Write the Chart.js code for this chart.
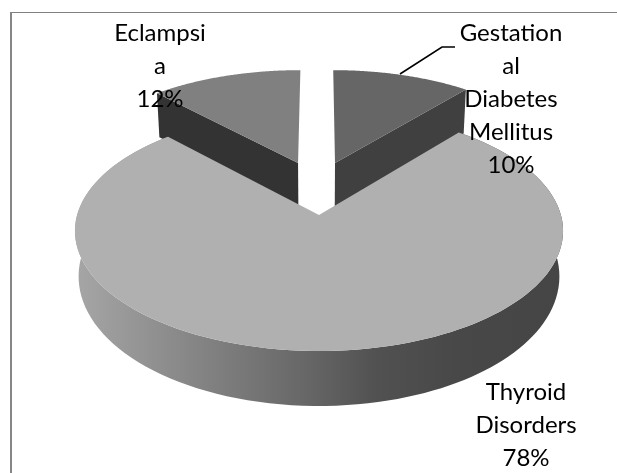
<!DOCTYPE html>
<html>
<head>
<meta charset="utf-8">
<style>
  html, body { margin: 0; background: #fff; overflow: hidden; }
  #wrap { position: relative; width: 617px; height: 473px; }
  #frame { position: absolute; left: 10px; top: 12px; right: 0; bottom: 0; border-top: 1px solid #808080; border-left: 2px solid #868686; }
  canvas { position: absolute; left: 0; top: 0; }
</style>
<script src="https://cdn.jsdelivr.net/npm/chart.js@4"></script>
</head>
<body>
<div id="wrap">
  <div id="frame"></div>
  <canvas id="pieChart" width="617" height="473"></canvas>
</div>
<script>
const categories = ['Gestational Diabetes Mellitus', 'Thyroid Disorders', 'Eclampsia'];
const percentValues = [10, 78, 12];
const labelLines = [['Gestation', 'al', 'Diabetes', 'Mellitus'], ['Thyroid', 'Disorders'], ['Eclampsi', 'a']];

// look of the 3d pie, not data
const faceColors = ['#666666', '#b0b0b0', '#808080'];
const wallColors = ['#404040', null, '#333333'];
const explode = [[0.0703, -0.4685], [0, 0], [-0.092, -0.4685]];
const labelBoxes = [[511, 33], [526, 392], [160, 33]];
const view = { cx: 319, cy: 215, a: 241.9, b: 117.9, k: 0.133 };

// circle on the table -> screen, simple perspective
function project(u, v) {
    const f = 1 / (1 - view.k * v);
    return [view.cx + view.a * u * f, view.cy + view.b * v * f];
}

// same point but on the lower rim of the pie
function projectLow(u, v) {
    const p = project(u, v);
    return [view.cx + (p[0] - view.cx) * 0.985, p[1] + 44 + 11 * Math.max(0, v)];
}

// the 3d view pushes the right side round a little, the top stays put
function warp(angle) {
    const s = Math.max(0, Math.sin(angle));
    return angle + 0.18 * s * s;
}

function rimPoints(arc, i, fn) {
    const from = arc.startAngle + Math.PI / 2;
    const to = arc.endAngle + Math.PI / 2;
    const pts = [];
    const steps = 120;
    for (let s = 0; s <= steps; s++) {
        const t = warp(from + (to - from) * s / steps);
        pts.push(fn(explode[i][0] + Math.sin(t), explode[i][1] - Math.cos(t)));
    }
    return pts;
}

function fillPoly(ctx, pts, color) {
    ctx.beginPath();
    pts.forEach((p, n) => n ? ctx.lineTo(p[0], p[1]) : ctx.moveTo(p[0], p[1]));
    ctx.closePath();
    ctx.fillStyle = color;
    ctx.fill();
}

const pie3d = {
    id: 'pie3d',
    beforeDatasetsDraw(chart) {
        const ctx = chart.ctx;
        const arcs = chart.getDatasetMeta(0).data;
        // back slices first, the big one covers their walls
        [2, 0, 1].forEach(i => {
            const top = rimPoints(arcs[i], i, project);
            const low = rimPoints(arcs[i], i, projectLow);
            const apex = project(explode[i][0], explode[i][1]);
            const apexLow = projectLow(explode[i][0], explode[i][1]);
            if (i === 1) {
                const side = ctx.createLinearGradient(75, 0, 563, 0);
                side.addColorStop(0, '#a6a6a6');
                side.addColorStop(0.5, '#636363');
                side.addColorStop(0.62, '#515151');
                side.addColorStop(0.78, '#484848');
                side.addColorStop(1, '#454545');
                fillPoly(ctx, top.concat(low.slice().reverse()), side);
            } else {
                const end = i === 0 ? top.length - 1 : 0;
                fillPoly(ctx, [apex, top[end], low[end], apexLow], wallColors[i]);
            }
            fillPoly(ctx, [apex].concat(top), faceColors[i]);
        });

        // leader line of the first label
        ctx.beginPath();
        ctx.moveTo(400, 74);
        ctx.lineTo(442, 47);
        ctx.lineTo(455, 47);
        ctx.strokeStyle = '#000';
        ctx.lineWidth = 1.6;
        ctx.stroke();

        ctx.fillStyle = '#000';
        ctx.font = '24px Lato, sans-serif';
        ctx.textAlign = 'center';
        ctx.textBaseline = 'middle';
        labelLines.forEach((lines, i) => {
            lines.concat(percentValues[i] + '%').forEach((line, n) => {
                ctx.fillText(line, labelBoxes[i][0], labelBoxes[i][1] + n * 33);
            });
        });
        return false;
    }
};

new Chart(document.getElementById('pieChart'), {
    type: 'pie',
    data: {
        labels: categories,
        datasets: [{ data: percentValues, backgroundColor: faceColors, borderWidth: 0 }]
    },
    options: {
        responsive: false,
        animation: false,
        plugins: { legend: { display: false }, tooltip: { enabled: false } }
    },
    plugins: [pie3d]
});
</script>
</body>
</html>
